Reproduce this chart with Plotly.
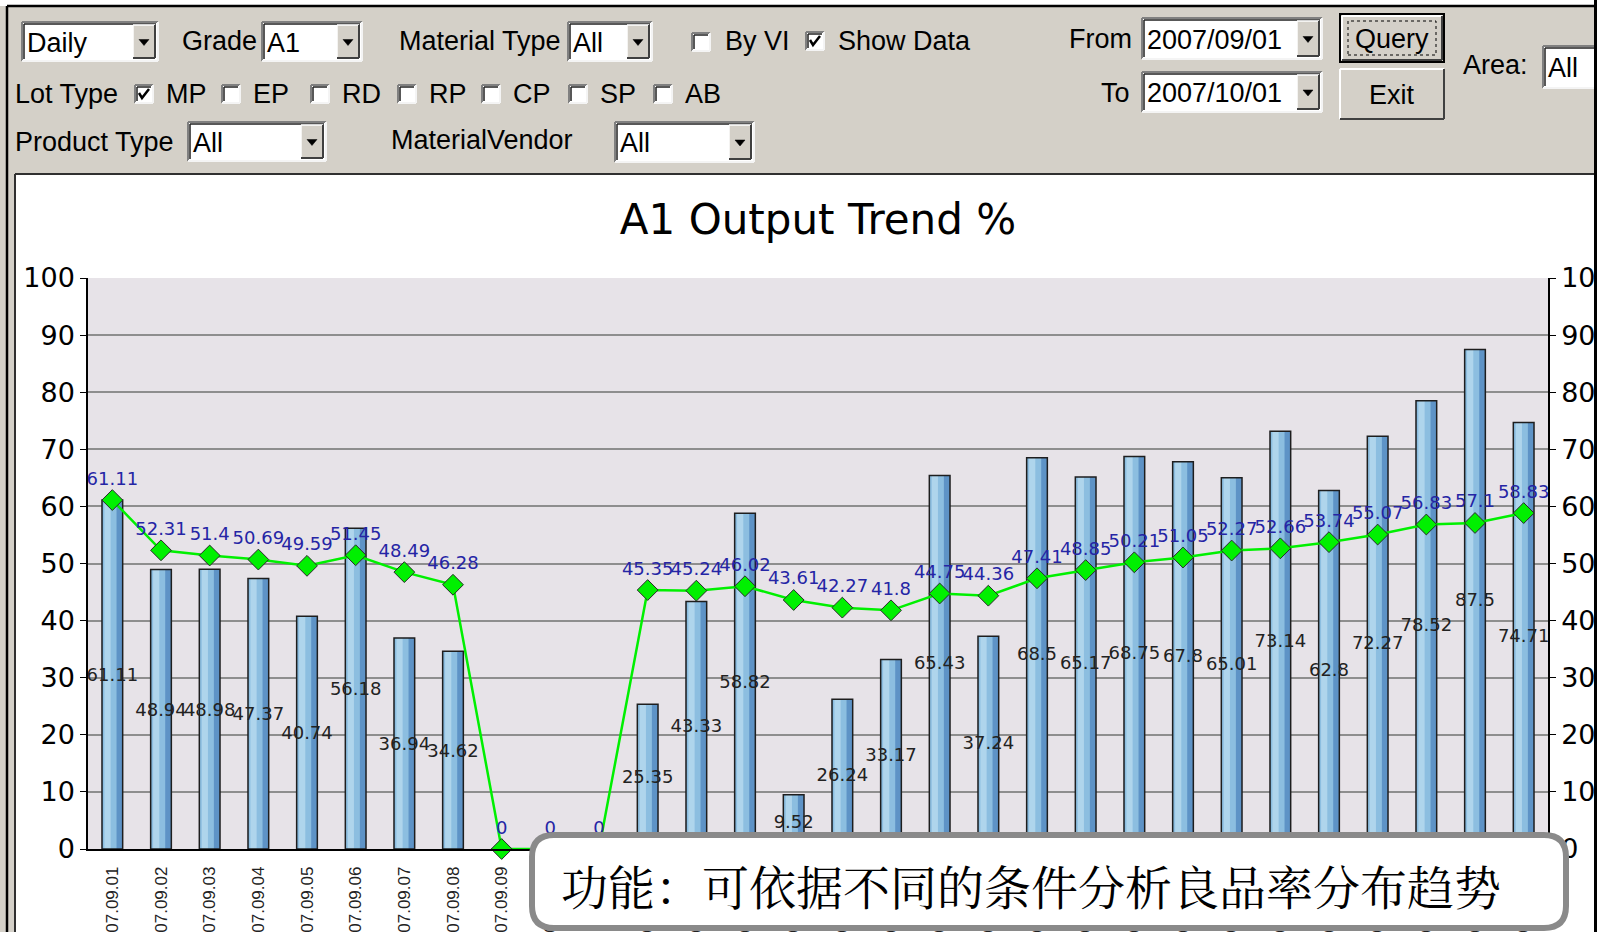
import plotly.graph_objects as go

# ---------------- data ----------------
dates = ["07.09.01", "07.09.02", "07.09.03", "07.09.04", "07.09.05", "07.09.06",
         "07.09.07", "07.09.08", "07.09.09", "07.09.10", "07.09.11", "07.09.12",
         "07.09.13", "07.09.14", "07.09.15", "07.09.16", "07.09.17", "07.09.18",
         "07.09.19", "07.09.20", "07.09.21", "07.09.22", "07.09.23", "07.09.24",
         "07.09.25", "07.09.26", "07.09.27", "07.09.28", "07.09.29", "07.09.30"]
daily_output = [61.11, 48.94, 48.98, 47.37, 40.74, 56.18, 36.94, 34.62, 0, 0,
                0, 25.35, 43.33, 58.82, 9.52, 26.24, 33.17, 65.43, 37.24, 68.5,
                65.17, 68.75, 67.8, 65.01, 73.14, 62.8, 72.27, 78.52, 87.5, 74.71]
trend_output = [61.11, 52.31, 51.4, 50.69, 49.59, 51.45, 48.49, 46.28, 0, 0,
                0, 45.35, 45.24, 46.02, 43.61, 42.27, 41.8, 44.75, 44.36, 47.41,
                48.85, 50.21, 51.05, 52.27, 52.66, 53.74, 55.07, 56.83, 57.1, 58.83]
y_ticks = [0, 10, 20, 30, 40, 50, 60, 70, 80, 90, 100]

bar_text = [f"{v:g}" if v else "" for v in daily_output]
line_text = [f"{v:g}" for v in trend_output]

# ---------------- geometry (window pixels -> paper) ----------------
W, H = 1597, 932
L, R, T, B = 88, 1548, 278, 849      # plot area in pixels
PW, PH = R - L, B - T


def px(x):
    return (x - L) / PW


def py(y):
    return (B - y) / PH


def cx_(x):
    return px(max(0, min(x, W)))


def cy_(y):
    return py(max(0, min(y, H)))


shapes = []
annotations = []
UI = "Liberation Sans, Arial, sans-serif"
DV = "DejaVu Sans, Verdana, sans-serif"
GREY = "#D4D0C8"
UI_SIZE = 27


def rect(x0, y0, x1, y1, fill, line=None, lw=1.0, dash=None, layer="above"):
    ln = dict(color=line if line else fill, width=lw if line else 0)
    if dash:
        ln["dash"] = dash
    shapes.append(dict(type="rect", xref="paper", yref="paper",
                       x0=cx_(x0), x1=cx_(x1), y0=cy_(y1), y1=cy_(y0),
                       fillcolor=fill, line=ln, layer=layer))


def seg(x0, y0, x1, y1, color, lw=1.0):
    shapes.append(dict(type="line", xref="paper", yref="paper",
                       x0=cx_(x0), x1=cx_(x1), y0=cy_(y0), y1=cy_(y1),
                       line=dict(color=color, width=lw), layer="above"))


def path(points, fill=None, color="black", lw=1.0, close=True):
    d = "M " + " L ".join(f"{px(x):.5f},{py(y):.5f}" for x, y in points)
    if close:
        d += " Z"
    shapes.append(dict(type="path", xref="paper", yref="paper", path=d,
                       fillcolor=fill if fill else "rgba(0,0,0,0)",
                       line=dict(color=color, width=lw), layer="above"))


def text(x, y, s, size=UI_SIZE, anchor="left", color="black", family=UI):
    annotations.append(dict(x=px(x), y=py(y), xref="paper", yref="paper",
                            text=s, showarrow=False, xanchor=anchor,
                            yanchor="middle", borderpad=0,
                            font=dict(size=size, family=family, color=color)))


def sunken(x0, y0, x1, y1, fill="white", right_edge=True):
    rect(x0, y0, x1, y1, fill)
    seg(x0, y0, x1, y0, "#808080", 2)
    seg(x0, y0, x0, y1, "#808080", 2)
    seg(x0 + 2, y0 + 2, x1 - 2, y0 + 2, "#202020", 1.5)
    seg(x0 + 2, y0 + 2, x0 + 2, y1 - 2, "#202020", 1.5)
    seg(x0, y1, x1, y1, "#F4F4F4", 2)
    if right_edge:
        seg(x1, y0, x1, y1, "#F4F4F4", 2)


def dropdown(x0, y0, x1, y1, label, arrow=True):
    sunken(x0, y0, x1, y1, right_edge=arrow)
    text(x0 + 4, (y0 + y1) / 2 + 1, label)
    if arrow:
        ax0, ax1 = x1 - 25, x1 - 3
        rect(ax0, y0 + 3, ax1, y1 - 3, GREY)
        seg(ax0, y0 + 3, ax1, y0 + 3, "white", 1.5)
        seg(ax0, y0 + 3, ax0, y1 - 3, "white", 1.5)
        seg(ax0, y1 - 3, ax1, y1 - 3, "#404040", 2)
        seg(ax1, y0 + 3, ax1, y1 - 3, "#404040", 2)
        mx, my = (ax0 + ax1) / 2, (y0 + y1) / 2
        path([(mx - 5, my - 2), (mx + 5, my - 2), (mx, my + 4)], fill="black", lw=0.5)


def checkbox(x, yc, checked=False):
    sunken(x, yc - 9, x + 18, yc + 9)
    if checked:
        path([(x + 4, yc - 1), (x + 7, yc + 4), (x + 14, yc - 5)], color="black",
             lw=2.5, close=False)


def button(x0, y0, x1, y1, label, focus=False):
    rect(x0, y0, x1, y1, GREY)
    if focus:
        rect(x0, y0, x1, y1, GREY, line="#000000", lw=2)
        x0, y0, x1, y1 = x0 + 2, y0 + 2, x1 - 2, y1 - 2
    seg(x0, y0, x1, y0, "white", 2)
    seg(x0, y0, x0, y1, "white", 2)
    seg(x0, y1, x1, y1, "#404040", 2)
    seg(x1, y0, x1, y1, "#404040", 2)
    if focus:
        rect(x0 + 6, y0 + 5, x1 - 6, y1 - 5, "rgba(0,0,0,0)", line="#000000",
             lw=1, dash="dot")
    text((x0 + x1) / 2, (y0 + y1) / 2 + 1, label, anchor="center")


# ---------------- window frame / panel ----------------
rect(0, 0, W, 174, GREY)
rect(0, 0, W, 6, "white")
rect(0, 174, 15, H, GREY)
seg(7, 6, W, 6, "black", 2.5)
seg(7, 6, 7, H, "black", 2.5)
seg(15, 174, 1594, 174, "#303030", 2)
seg(15, 174, 15, H, "#303030", 2)

# row 1
dropdown(22, 22, 158, 61, "Daily")
text(181, 41, "Grade")
dropdown(262, 22, 362, 61, "A1")
text(398, 41, "Material Type")
dropdown(568, 22, 652, 61, "All")
checkbox(692, 42)
text(724, 41, "By VI")
checkbox(806, 41, checked=True)
text(837, 41, "Show Data")
text(1133, 39, "From", anchor="right")
dropdown(1142, 18, 1322, 59, "2007/09/01")
button(1340, 14, 1444, 62, "Query", focus=True)
text(1462, 65, "Area:")
dropdown(1543, 46, W, 88, "All", arrow=False)

# row 2
text(14, 94, "Lot Type")
lot_boxes = [(135, "MP", True), (222, "EP", False), (311, "RD", False),
             (398, "RP", False), (482, "CP", False), (569, "SP", False),
             (654, "AB", False)]
for bx, lab, chk in lot_boxes:
    checkbox(bx, 94, checked=chk)
    text(bx + 30, 94, lab)
text(1131, 93, "To", anchor="right")
dropdown(1142, 72, 1322, 112, "2007/10/01")
button(1340, 69, 1444, 119, "Exit")

# row 3
text(14, 142, "Product Type")
dropdown(188, 122, 326, 161, "All")
text(390, 140, "MaterialVendor")
dropdown(615, 122, 754, 162, "All")

# right window edge (covers clipped right-axis labels)
rect(1594, 0, W, H, "black")

# caption box
bx0, by0, bx1, by1, rr = 532, 835, 1566, 928, 22
d = (f"M {px(bx0 + rr)},{py(by0)} L {px(bx1 - rr)},{py(by0)} "
     f"Q {px(bx1)},{py(by0)} {px(bx1)},{py(by0 + rr)} "
     f"L {px(bx1)},{py(by1 - rr)} Q {px(bx1)},{py(by1)} {px(bx1 - rr)},{py(by1)} "
     f"L {px(bx0 + rr)},{py(by1)} Q {px(bx0)},{py(by1)} {px(bx0)},{py(by1 - rr)} "
     f"L {px(bx0)},{py(by0 + rr)} Q {px(bx0)},{py(by0)} {px(bx0 + rr)},{py(by0)} Z")
shapes.append(dict(type="path", xref="paper", yref="paper", path=d,
                   fillcolor="white", line=dict(color="#8A8A8A", width=6),
                   layer="above"))
text(560, 884, "功能：可依据不同的条件分析良品率分布趋势", size=47,
     family="Noto Serif CJK SC, Noto Sans CJK SC, sans-serif")

# ---------------- traces ----------------
BW = 0.425
fig = go.Figure()
fig.add_trace(go.Bar(x=dates, y=daily_output, width=BW, offset=-BW / 2,
                     marker=dict(color="#5E93C6", line=dict(width=0)),
                     hoverinfo="skip", showlegend=False))
fig.add_trace(go.Bar(x=dates, y=daily_output, width=BW * 0.68, offset=-BW / 2 + 0.01,
                     marker=dict(color="#8CBEE0", line=dict(width=0)),
                     hoverinfo="skip", showlegend=False))
fig.add_trace(go.Bar(x=dates, y=daily_output, width=BW * 0.3, offset=-BW / 2 + 0.05,
                     marker=dict(color="#AFD5EC", line=dict(width=0)),
                     hoverinfo="skip", showlegend=False))
fig.add_trace(go.Bar(x=dates, y=daily_output, width=BW, offset=-BW / 2,
                     marker=dict(color="rgba(0,0,0,0)",
                                 line=dict(color="#1E1E1E", width=1.5)),
                     text=bar_text, textposition="inside",
                     insidetextanchor="middle", textangle=0,
                     constraintext="none",
                     textfont=dict(family=DV, size=18, color="#222222"),
                     showlegend=False))
fig.add_trace(go.Scatter(x=dates, y=trend_output, yaxis="y2",
                         mode="lines+markers+text",
                         line=dict(color="#00F000", width=2.5),
                         marker=dict(symbol="diamond", size=16, color="#00F000",
                                     line=dict(color="#2A2A2A", width=1)),
                         text=line_text, textposition="top center",
                         textfont=dict(family=DV, size=18, color="#2525A5"),
                         cliponaxis=False, showlegend=False))

axis_font = dict(family=DV, size=27, color="black")
fig.update_layout(
    width=W, height=H, autosize=False,
    margin=dict(l=L, r=W - R, t=T, b=H - B, pad=0, autoexpand=False),
    paper_bgcolor="white",
    plot_bgcolor="#E7E3E8",
    barmode="overlay",
    showlegend=False,
    title=dict(text="A1 Output Trend %", x=0.5, xref="paper", xanchor="center",
               y=1 - 219 / H, yref="container", yanchor="middle",
               font=dict(family=DV, size=42, color="black")),
    xaxis=dict(type="category", range=[-0.5, len(dates) - 0.5], tickangle=-90,
               tickfont=dict(family=UI, size=17, color="#222222"),
               showline=True, linecolor="black", linewidth=1.5,
               showgrid=False, ticks="outside", ticklen=9,
               tickcolor="rgba(0,0,0,0)", fixedrange=True, automargin=False),
    yaxis=dict(range=[0, 100], tickvals=y_ticks, tickfont=axis_font,
               ticks="outside", ticklen=6, tickcolor="black",
               showline=True, linecolor="black", linewidth=1.5,
               gridcolor="#8E8E8E", gridwidth=1.5, zeroline=False,
               automargin=False),
    yaxis2=dict(range=[0, 100], tickvals=y_ticks, tickfont=axis_font,
                overlaying="y", side="right",
                ticks="outside", ticklen=6, tickcolor="black",
                showline=True, linecolor="black", linewidth=1.5,
                showgrid=False, zeroline=False, automargin=False),
    shapes=shapes,
    annotations=annotations,
)

fig.write_html("out.html", config={"displayModeBar": False, "responsive": False},
               post_script="document.body.style.margin='0';"
                           "document.documentElement.style.overflow='hidden';")
